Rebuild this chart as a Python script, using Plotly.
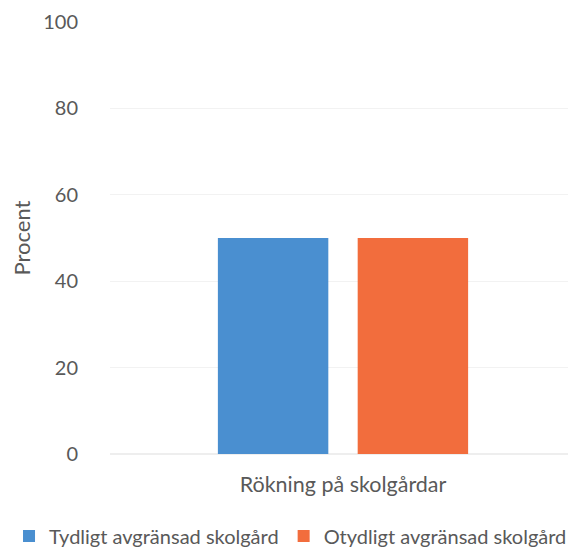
import plotly.graph_objects as go

categories = ["Rökning på skolgårdar"]
series_names = ["Tydligt avgränsad skolgård", "Otydligt avgränsad skolgård"]
series_values = [[50], [50]]
series_colors = ["#4a8fd0", "#f26d3d"]
y_ticks = [0, 20, 40, 60, 80, 100]

fig = go.Figure()
for name, values, color in zip(series_names, series_values, series_colors):
    fig.add_trace(go.Bar(x=categories, y=values, name=name, marker_color=color,
                         marker_line_width=0))

# the page body has an 8px margin, so the figure is sized to fit the window
text_color = "#595959"
fig.update_layout(
    width=568,
    height=539,
    paper_bgcolor="white",
    plot_bgcolor="white",
    font=dict(family="Lato, Open Sans, sans-serif", size=18, color=text_color),
    margin=dict(l=102, r=0, t=14, b=93, autoexpand=False),
    barmode="group",
    bargap=0.4,
    bargroupgap=0.21,
    showlegend=True,
    legend=dict(
        orientation="h",
        xref="paper",
        x=-0.2167,
        xanchor="left",
        yref="paper",
        y=-0.19,
        yanchor="middle",
        font=dict(size=20, color=text_color),
        itemwidth=30,
        tracegroupgap=0,
        bgcolor="rgba(0,0,0,0)",
    ),
)
fig.update_xaxes(showgrid=False, showline=False, ticks="", automargin=False,
                 tickfont=dict(size=21.5), ticklabelstandoff=15)
fig.update_yaxes(
    range=[0, 100],
    tickvals=y_ticks,
    showgrid=True,
    gridcolor="#f2f2f2",
    zeroline=True,
    zerolinecolor="#eeeeee",
    showline=False,
    ticks="",
    automargin=False,
    ticklabelstandoff=31,
    tickfont=dict(size=20),
    title=dict(text="Procent", font=dict(size=22), standoff=25),
)

fig.write_html("out.html")
